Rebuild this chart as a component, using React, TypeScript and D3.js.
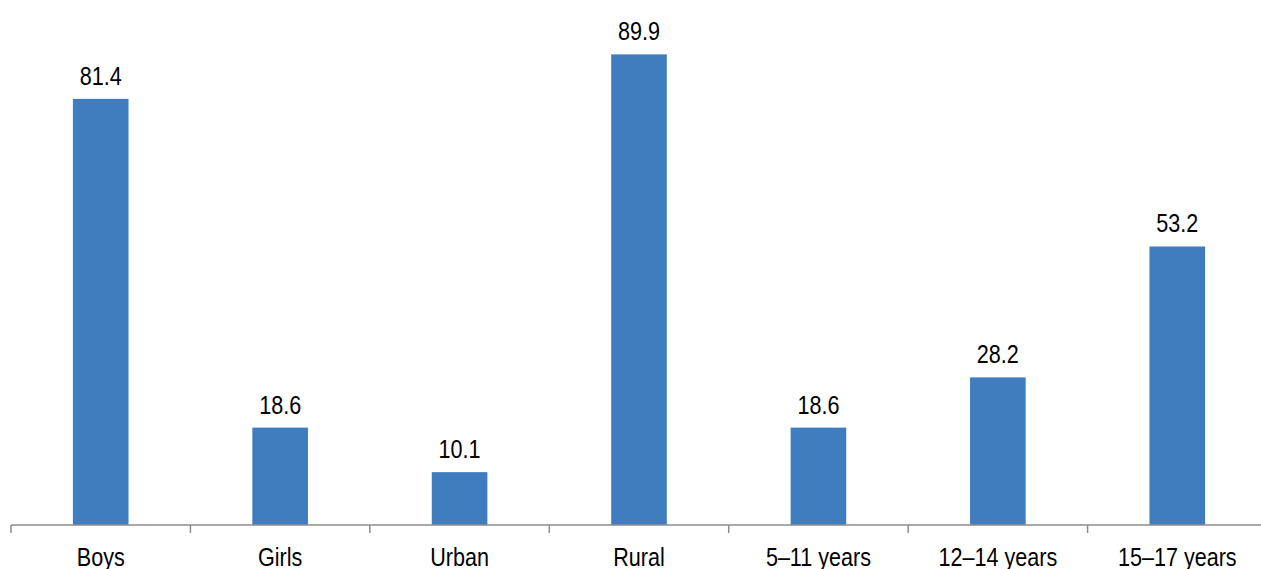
import React from "react";
import * as d3 from "d3";

const categories = ["Boys", "Girls", "Urban", "Rural", "5–11 years", "12–14 years", "15–17 years"];
const values = [81.4, 18.6, 10.1, 89.9, 18.6, 28.2, 53.2];

const W = 1261;
const H = 569;
const FONT = "'Liberation Sans', Arial, sans-serif";

function NarrowText({ x, y, children }: { x: number; y: number; children: React.ReactNode }) {
  return (
    <text
      transform={`translate(${x},${y}) scale(0.83,1)`}
      textAnchor="middle"
      fontFamily={FONT}
      fontSize={26}
      fill="#000"
    >
      {children}
    </text>
  );
}

export default function App() {
  const x = d3.scaleBand<string>().domain(categories).range([11, 1267]).paddingInner(0).paddingOuter(0);
  const y = d3.scaleLinear().domain([0, 100]).range([525, 1.5]);
  const bw = x.bandwidth() * 0.31;
  const axisY = y(0);
  const tickXs = categories.map((c) => x(c)!).concat([x.range()[1]]);
  return (
    <svg width={W} height={H} style={{ position: "absolute", left: 0, top: 0, background: "#fff" }}>
      {categories.map((c, i) => {
        const cx = x(c)! + x.bandwidth() / 2;
        return (
          <g key={c}>
            <rect x={cx - bw / 2} y={y(values[i])} width={bw} height={axisY - y(values[i])} fill="#407dbf" />
            <NarrowText x={cx} y={y(values[i]) - 14}>{values[i].toFixed(1)}</NarrowText>
            <NarrowText x={cx} y={566}>{c}</NarrowText>
          </g>
        );
      })}
      <line x1={11} x2={1267} y1={axisY} y2={axisY} stroke="#8c8c8c" strokeWidth={1.5} />
      {tickXs.map((t, i) => (
        <line key={i} x1={t} x2={t} y1={axisY} y2={axisY + 8} stroke="#8c8c8c" strokeWidth={1.5} />
      ))}
    </svg>
  );
}
